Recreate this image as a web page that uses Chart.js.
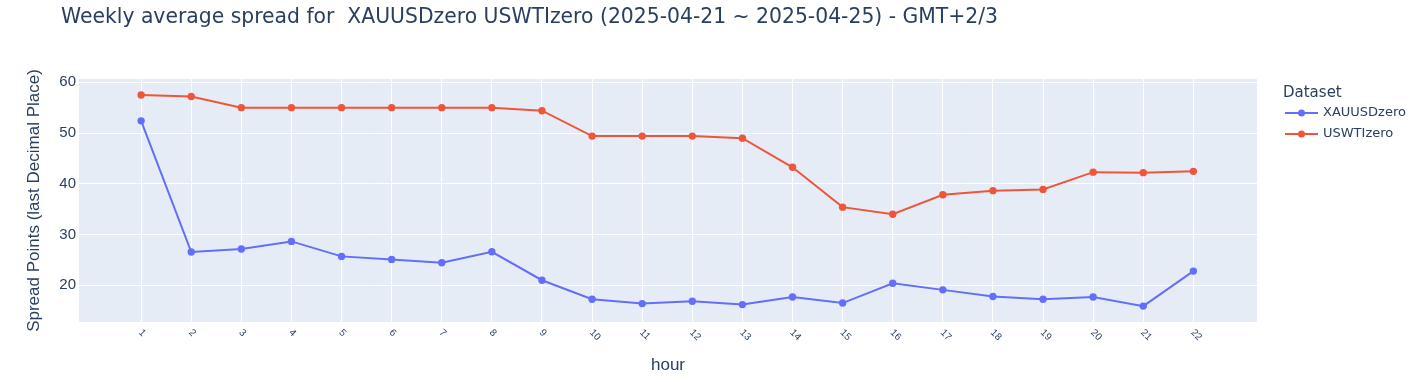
<!DOCTYPE html>
<html>
<head>
<meta charset="utf-8">
<script src="https://cdn.jsdelivr.net/npm/chart.js@4.4.1/dist/chart.umd.min.js"></script>
<style>
  html, body { margin: 0; padding: 0; background: #ffffff; }
  #wrap { width: 1420px; height: 382px; position: relative; }
</style>
</head>
<body>
<div id="wrap"><canvas id="c" width="1420" height="382"></canvas></div>
<script>
// ---- data ----
const chartTitle = "Weekly average spread for  XAUUSDzero USWTIzero (2025-04-21 ~ 2025-04-25) - GMT+2/3";
const legendTitle = "Dataset";
const xAxisTitle = "hour";
const yAxisTitle = "Spread Points (last Decimal Place)";
const hours = [1, 2, 3, 4, 5, 6, 7, 8, 9, 10, 11, 12, 13, 14, 15, 16, 17, 18, 19, 20, 21, 22];
const xauusdzero = [52.4, 26.55, 27.15, 28.65, 25.7, 25.1, 24.45, 26.6, 21.0, 17.25, 16.4, 16.85, 16.2, 17.7, 16.5, 20.4, 19.1, 17.8, 17.25, 17.7, 15.9, 22.8];
const uswtizero = [57.5, 57.2, 55.0, 55.0, 55.0, 55.0, 55.0, 55.0, 54.4, 49.4, 49.4, 49.4, 49.0, 43.25, 35.4, 34.0, 37.85, 38.65, 38.9, 42.3, 42.2, 42.45];
const yTickValues = [20, 30, 40, 50, 60];
const seriesNames = ["XAUUSDzero", "USWTIzero"];

const TXT = '#2a3f5f';
const BLUE = '#636efa';
const RED = '#EF553B';

const bgPlugin = {
  id: 'plotbg',
  beforeDraw(chart) {
    const {ctx, chartArea: a} = chart;
    ctx.save();
    ctx.fillStyle = '#E5ECF6';
    ctx.fillRect(a.left, a.top, a.right - a.left, a.bottom - a.top);
    ctx.restore();
  },
  afterDraw(chart) {
    const ctx = chart.ctx;
    ctx.save();
    // title
    ctx.fillStyle = TXT;
    ctx.font = '20.35px "DejaVu Sans"';
    ctx.textAlign = 'left';
    ctx.textBaseline = 'alphabetic';
    ctx.fillText(chartTitle, 61, 23);
    // x tick labels, rotated 45deg clockwise
    const xs = chart.scales.x;
    ctx.font = '10px "Liberation Sans"';
    xs.ticks.forEach(t => {
      const px = xs.getPixelForValue(t.value);
      ctx.save();
      ctx.translate(px - 1, 331);
      ctx.rotate(Math.PI / 4);
      ctx.textAlign = 'left';
      ctx.textBaseline = 'middle';
      ctx.fillText(String(t.value), 0, 0);
      ctx.restore();
    });
    // legend
    ctx.font = '15px "DejaVu Sans"';
    ctx.textAlign = 'left';
    ctx.textBaseline = 'middle';
    ctx.fillText(legendTitle, 1283, 93);
    const ys = [113, 134];
    chart.data.datasets.forEach((ds, i) => {
      const y = ys[i];
      ctx.strokeStyle = ds.borderColor;
      ctx.lineWidth = 2;
      ctx.beginPath();
      ctx.moveTo(1285, y);
      ctx.lineTo(1318, y);
      ctx.stroke();
      ctx.fillStyle = ds.backgroundColor;
      ctx.beginPath();
      ctx.arc(1301.5, y, 3.5, 0, Math.PI * 2);
      ctx.fill();
      ctx.fillStyle = TXT;
      ctx.font = '13px "DejaVu Sans"';
      ctx.fillText(ds.label, 1323, y);
    });
    ctx.restore();
  }
};

const mk = (vals) => hours.map((h, i) => ({x: h, y: vals[i]}));

new Chart(document.getElementById('c'), {
  type: 'line',
  data: {
    datasets: [
      { label: seriesNames[0], data: mk(xauusdzero), borderColor: BLUE, backgroundColor: BLUE,
        borderWidth: 2, pointRadius: 3.7, pointHoverRadius: 3.7, pointBorderWidth: 0, tension: 0 },
      { label: seriesNames[1], data: mk(uswtizero), borderColor: RED, backgroundColor: RED,
        borderWidth: 2, pointRadius: 3.7, pointHoverRadius: 3.7, pointBorderWidth: 0, tension: 0 }
    ]
  },
  options: {
    responsive: false,
    animation: false,
    devicePixelRatio: 1,
    layout: { padding: { top: 79, right: 163, bottom: 0, left: 0 } },
    plugins: { legend: { display: false }, title: { display: false }, tooltip: { enabled: false } },
    scales: {
      x: {
        type: 'linear',
        min: -0.24, max: 23.27,
        afterBuildTicks: (s) => { s.ticks = hours.map(v => ({value: v})); },
        afterFit: (s) => { s.height = 60; },
        ticks: { display: false },
        grid: { color: '#ffffff', lineWidth: 1, drawTicks: false },
        border: { display: false },
        title: { display: true, text: xAxisTitle, color: TXT, font: { family: 'Liberation Sans', size: 17 }, padding: { top: 0, bottom: 6 } }
      },
      y: {
        type: 'linear',
        min: 12.77, max: 60.65,
        afterBuildTicks: (s) => { s.ticks = yTickValues.map(v => ({value: v})); },
        afterFit: (s) => { s.width = 79; },
        ticks: { color: TXT, font: { family: 'Liberation Sans', size: 15 }, padding: 3 },
        grid: { color: '#ffffff', lineWidth: 1, drawTicks: false },
        border: { display: false },
        title: { display: true, text: yAxisTitle, color: TXT, font: { family: 'Liberation Sans', size: 17 }, padding: { top: 24, bottom: 0 } }
      }
    }
  },
  plugins: [bgPlugin]
});
</script>
</body>
</html>
